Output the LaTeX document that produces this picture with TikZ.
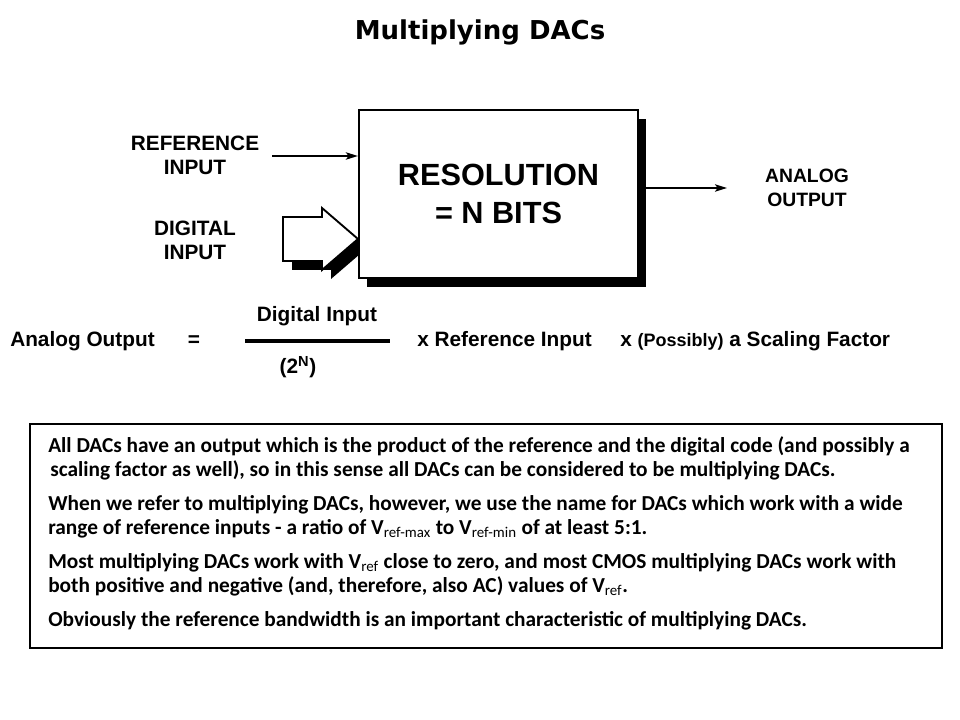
\documentclass[tikz,border=0pt]{standalone}
\usepackage{fontspec}
\setmainfont{Liberation Sans}
\newfontfamily\titlefont{DejaVu Sans}
\newfontfamily\notefont{Carlito}
\usetikzlibrary{arrows.meta,positioning,shadows}
\newcommand{\vsub}[1]{V\textsubscript{\mdseries #1}}

\begin{document}
\begin{tikzpicture}[
      x=0.75pt,y=-0.75pt,
      dacbox/.style={
        draw,
        line width=1.9pt,
        fill=white,
        align=center,
        minimum width=209pt,
        minimum height=126pt,
        font=\bfseries\fontsize{23}{28.5}\selectfont,
        drop shadow={shadow xshift=6pt,shadow yshift=-6.5pt,opacity=1,fill=black}
      },
      lbl/.style={align=center,inner sep=0pt,font=\bfseries\fontsize{14.5}{18}\selectfont},
      eq/.style={inner sep=0pt,font=\bfseries\fontsize{15.6}{18}\selectfont},
      note/.style={anchor=base west,inner sep=0pt,font=\notefont\bfseries\fontsize{16}{19}\selectfont},
      sigarrow/.style={-{Stealth[length=9pt,width=5.5pt,inset=2pt]},line width=1.4pt}
    ]
      \useasboundingbox (0,0) rectangle (960,720);
      \node[font=\titlefont\bfseries\fontsize{19.5}{22}\selectfont] (title) at (480,32) {Multiplying DACs};

      % digital input bus
      \fill[black,shift={(9,9)}] (283,217) -- (322,217) -- (322,208) -- (358,239)
        -- (322,270) -- (322,261) -- (283,261) -- cycle;
      \draw[line width=1.4pt,fill=white,line join=miter] (283,217) -- (322,217) -- (322,208) -- (358,239)
        -- (322,270) -- (322,261) -- (283,261) -- cycle;

      \node[dacbox] (dac) at (498.5,194) {RESOLUTION\\= N BITS};
      \node[lbl,font=\bfseries\fontsize{15.6}{18}\selectfont] (refin) at (195,155) {REFERENCE\\INPUT};
      \node[lbl,font=\bfseries\fontsize{15.6}{18}\selectfont] (digin) at (195,240) {DIGITAL\\INPUT};
      \node[lbl] (aout) at (807,188) {ANALOG\\OUTPUT};
      \coordinate (refstart) at (272,156);
      \coordinate (outtip) at (727,188);
      \draw[sigarrow] (refstart) -- (refstart -| dac.west);
      \draw[sigarrow] (dac.east |- outtip) -- (outtip);

      % transfer equation
      \node[eq,anchor=west] (lhs) at (10,341) {Analog Output};
      \node[eq] (equals) at (194,341) {=};
      \node[eq] (numer) at (317,316) {Digital Input};
      \node[eq] (denom) at (298,367) {(2\textsuperscript{N})};
      \draw[line width=2.3pt] (245,341) -- (390,341);
      \node[eq,anchor=west] (refterm) at (417,341) {x Reference Input};
      \node[eq,anchor=west] (scaleterm) at (620,341) {x {\fontsize{13.5}{15}\selectfont(Possibly)} a Scaling Factor};

      % notes
      \node[draw,line width=0.8pt,minimum width=684pt,minimum height=168pt] (notebox) at (486,536) {};
      \node[note] (n1) at (48,452) {All DACs have an output which is the product of the reference and the digital code (and possibly a};
      \node[note] (n2) at (50,476) {scaling factor as well), so in this sense all DACs can be considered to be multiplying DACs.};
      \node[note] (n3) at (48,510) {When we refer to multiplying DACs, however, we use the name for DACs which work with a wide};
      \node[note] (n4) at (48,534) {range of reference inputs - a ratio of \vsub{ref-max} to \vsub{ref-min} of at least 5:1.};
      \node[note] (n5) at (48,568) {Most multiplying DACs work with \vsub{ref} close to zero, and most CMOS multiplying DACs work with};
      \node[note] (n6) at (48,592) {both positive and negative (and, therefore, also AC) values of \vsub{ref}.};
      \node[note] (n7) at (48,626) {Obviously the reference bandwidth is an important characteristic of multiplying DACs.};
    \end{tikzpicture}
\end{document}
